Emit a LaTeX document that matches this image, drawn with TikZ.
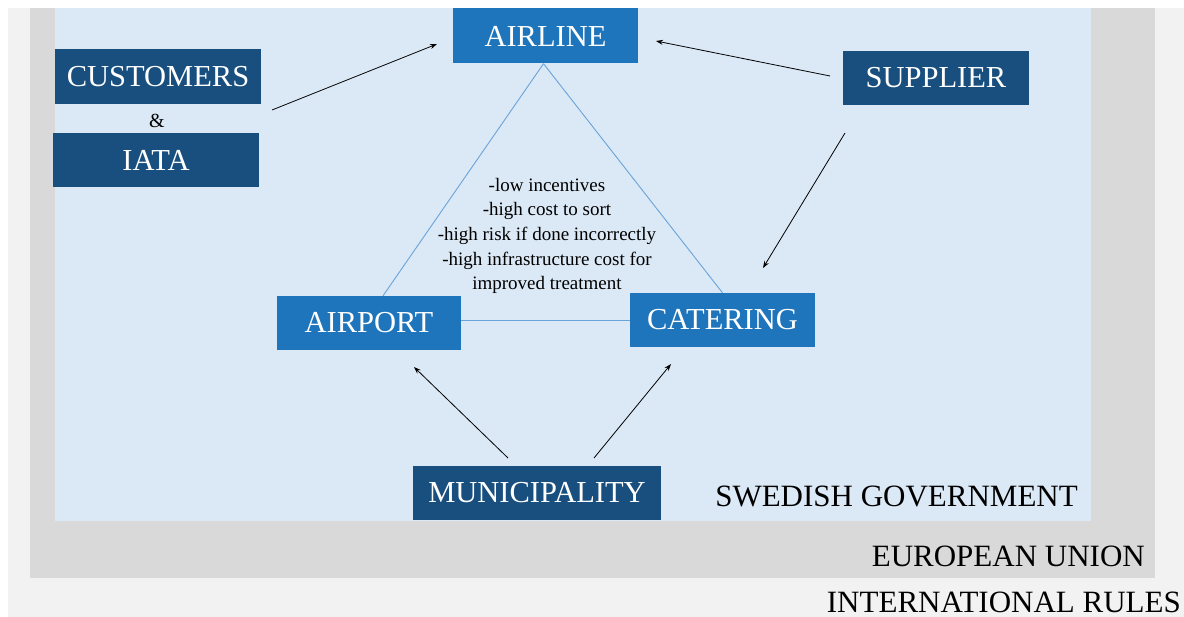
\documentclass[tikz,border=0pt]{standalone}
\usepackage{fontspec}
\setmainfont{Liberation Serif}
\usetikzlibrary{arrows.meta}
\definecolor{intlgray}{RGB}{242,242,242}
\definecolor{eugray}{RGB}{217,217,217}
\definecolor{govblue}{RGB}{219,233,246}
\definecolor{darkbox}{RGB}{25,79,127}
\definecolor{brightbox}{RGB}{30,117,188}
\definecolor{tri}{RGB}{105,163,218}
\tikzset{
  actor/.style={inner sep=0pt, minimum height=54pt, text=white,
    font=\fontsize{30.5}{35}\selectfont},
  darkactor/.style={actor, fill=darkbox},
  brightactor/.style={actor, fill=brightbox},
  level/.style={inner sep=0pt, anchor=base east, text=black,
    font=\fontsize{31}{37}\selectfont},
  link/.style={draw=tri, line width=0.9pt},
  influence/.style={draw=black, line width=0.8pt,
    -{Stealth[length=7pt,width=5pt]}}
}
\begin{document}
\begin{tikzpicture}[x=1pt,y=-1pt]
\useasboundingbox (0,0) rectangle (1184,617);
\fill[white] (0,0) rectangle (1184,617);
% nested regulatory levels
\fill[intlgray] (8,8) rectangle (1184,617);
\fill[eugray] (30,8) rectangle (1155,578);
\fill[govblue] (55,8) rectangle (1091,521);
\node[level] (intl) at (1181,612) {INTERNATIONAL RULES};
\node[level] (eu) at (1145,566) {EUROPEAN UNION};
\node[level] (gov) at (1078,507) {SWEDISH GOVERNMENT};
% actors
\node[darkactor, minimum width=206pt, minimum height=55pt] (cust) at (158,76.5) {CUSTOMERS};
\node[inner sep=0pt, font=\fontsize{20}{24}\selectfont] (amp) at (157,121) {\&};
\node[darkactor, minimum width=206pt] (iata) at (156,160) {IATA};
\node[brightactor, minimum width=185pt, minimum height=55pt] (airline) at (545.5,36) {AIRLINE};
\node[darkactor, minimum width=186pt] (supplier) at (936,78) {SUPPLIER};
\node[brightactor, minimum width=184pt] (airport) at (369,323) {AIRPORT};
\node[brightactor, minimum width=185pt] (catering) at (722.5,320) {CATERING};
\node[darkactor, minimum width=248pt] (muni) at (537,493) {MUNICIPALITY};
% barriers inside the triangle
\node[align=center, inner sep=0pt, font=\fontsize{19}{24.7}\selectfont] (barriers) at (547,236)
  {-low incentives\\-high cost to sort\\-high risk if done incorrectly\\-high infrastructure cost for\\improved treatment};
% triangle of the main actors
\draw[link] ([xshift=-2pt]airline.south) -- ([xshift=14pt]airport.north);
\draw[link] ([xshift=-2pt]airline.south) -- (catering.north);
\draw[link] (catering.west -| airport.east) -- (catering.west);
% influences
\coordinate (c1) at (272,110);
\coordinate (c2) at (437,44);
\draw[influence] (c1) -- (c2);
\coordinate (s1) at (830,76);
\coordinate (s2) at (656,41);
\draw[influence] (s1) -- (s2);
\coordinate (s3) at (845,133);
\coordinate (s4) at (763,268);
\draw[influence] (s3) -- (s4);
\coordinate (m1) at (508,458);
\coordinate (m2) at (414,367);
\draw[influence] (m1) -- (m2);
\coordinate (m3) at (594,458);
\coordinate (m4) at (671,364);
\draw[influence] (m3) -- (m4);
\end{tikzpicture}
\end{document}
